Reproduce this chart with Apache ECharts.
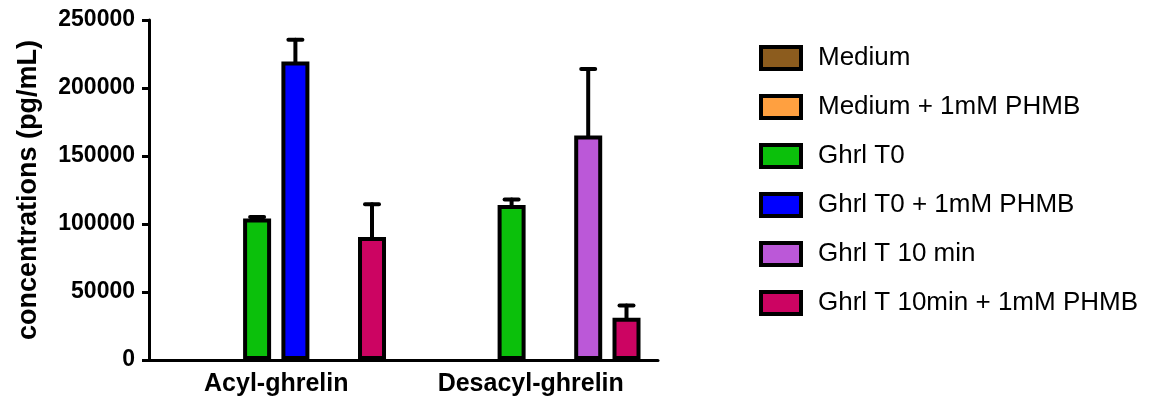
<!DOCTYPE html>
<html>
<head>
<meta charset="utf-8">
<script src="https://cdn.jsdelivr.net/npm/echarts@6/dist/echarts.min.js"></script>
<style>html,body{margin:0;padding:0;background:#fff}#c{width:1155px;height:403px}</style>
</head>
<body>
<div id="c"></div>
<script>
const categories = ['Acyl-ghrelin', 'Desacyl-ghrelin'];
const seriesNames = ['Medium', 'Medium + 1mM PHMB', 'Ghrl T0', 'Ghrl T0 + 1mM PHMB', 'Ghrl T 10 min', 'Ghrl T 10min + 1mM PHMB'];
const seriesColors = ['#8C5C1E', '#FFA040', '#0BC00B', '#0000FF', '#BB58D8', '#CC0462'];
const medium = [0, 0];
const mediumPHMB = [0, 0];
const ghrlT0 = [104000, 114000];
const ghrlT0PHMB = [219500, 0];
const ghrlT10 = [0, 165000];
const ghrlT10PHMB = [90500, 31000];
const errMedium = [0, 0];
const errMediumPHMB = [0, 0];
const errGhrlT0 = [1200, 4000];
const errGhrlT0PHMB = [16000, 0];
const errGhrlT10 = [0, 49000];
const errGhrlT10PHMB = [24000, 9000];
const yTicks = [0, 50000, 100000, 150000, 200000, 250000];

const values = [medium, mediumPHMB, ghrlT0, ghrlT0PHMB, ghrlT10, ghrlT10PHMB];
const errors = [errMedium, errMediumPHMB, errGhrlT0, errGhrlT0PHMB, errGhrlT10, errGhrlT10PHMB];

const BAR_W = 28;
const GAP = 10.3;
const SLOT = BAR_W + GAP;
const FONT = '"Liberation Sans", Arial, Helvetica, sans-serif';

const series = values.map((vals, k) => ({
  name: seriesNames[k],
  type: 'bar',
  barWidth: BAR_W,
  barGap: (GAP / BAR_W * 100).toFixed(1) + '%',
  itemStyle: { color: seriesColors[k], borderColor: '#000', borderWidth: 4 },
  data: vals.map(v => v === 0 ? { value: 0, itemStyle: { borderWidth: 0, opacity: 0 } } : v)
}));

const errData = [];
values.forEach((vals, k) => {
  vals.forEach((v, i) => {
    if (errors[k][i] > 0) errData.push([i, v, errors[k][i], k]);
  });
});

series.push({
  type: 'custom',
  name: 'err',
  z: 1,
  silent: true,
  data: errData,
  encode: { x: 0, y: 1 },
  renderItem: function (params, api) {
    const i = api.value(0), m = api.value(1), e = api.value(2), k = api.value(3);
    const off = (k - 2.5) * SLOT;
    const p0 = api.coord([i, m]);
    const p1 = api.coord([i, m + e]);
    const x = p0[0] + off;
    const st = { stroke: '#000', lineWidth: 4, fill: null, lineCap: 'round' };
    return {
      type: 'group',
      children: [
        { type: 'line', shape: { x1: x, y1: p0[1], x2: x, y2: p1[1] }, style: st },
        { type: 'line', shape: { x1: x - 7, y1: p1[1], x2: x + 7, y2: p1[1] }, style: st }
      ]
    };
  }
});

const chart = echarts.init(document.getElementById('c'));
chart.setOption({
  animation: false,
  backgroundColor: '#fff',
  grid: { left: 149, right: 497, top: 20, bottom: 43, containLabel: false },
  legend: {
    orient: 'vertical',
    left: 754,
    top: 40,
    icon: 'rect',
    itemWidth: 40,
    itemHeight: 22,
    itemGap: 23,
    data: seriesNames,
    selectedMode: false,
    itemStyle: { borderWidth: 4, borderColor: '#000' },
    textStyle: { fontFamily: FONT, fontSize: 26, color: '#000', lineHeight: 25, padding: [0, 0, 0, 12] }
  },
  xAxis: {
    type: 'category',
    data: categories,
    axisLine: { lineStyle: { color: '#000', width: 3 } },
    axisTick: { alignWithLabel: true, length: 7, lineStyle: { color: '#000', width: 3 } },
    axisLabel: { fontFamily: FONT, fontSize: 25, fontWeight: 'bold', color: '#000', margin: 12 }
  },
  yAxis: {
    type: 'value',
    min: yTicks[0],
    max: yTicks[yTicks.length - 1],
    interval: yTicks[1] - yTicks[0],
    name: 'concentrations (pg/mL)',
    nameLocation: 'middle',
    nameGap: 107,
    nameTextStyle: { fontFamily: FONT, fontSize: 27, fontWeight: 'bold', color: '#000' },
    splitLine: { show: false },
    axisLine: { show: true, lineStyle: { color: '#000', width: 3 } },
    axisTick: { show: true, length: 7, lineStyle: { color: '#000', width: 3 } },
    axisLabel: { fontFamily: FONT, fontSize: 23, fontWeight: 'bold', color: '#000', margin: 14, formatter: v => String(v) }
  },
  series: series
});
</script>
</body>
</html>
